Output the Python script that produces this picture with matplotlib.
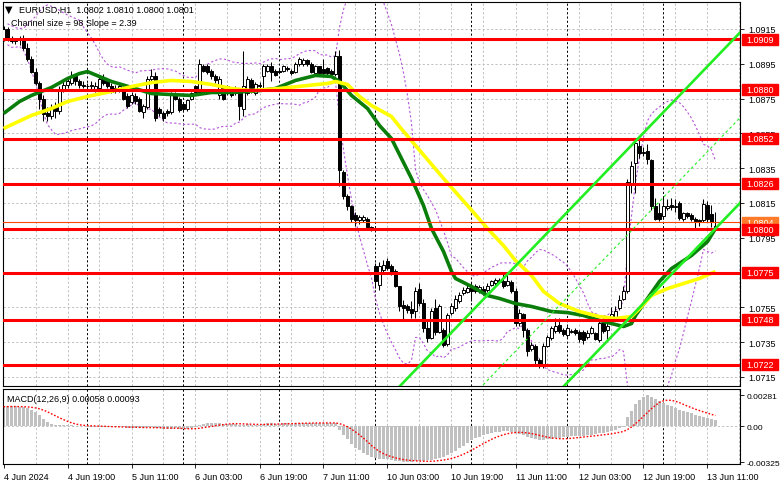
import numpy as np
import pandas as pd
import matplotlib
matplotlib.use("Agg")
import matplotlib.pyplot as plt
from matplotlib.patches import Rectangle
from matplotlib.transforms import blended_transform_factory

plt.rcParams["font.family"] = ["Liberation Sans", "DejaVu Sans"]

W, H = 781, 489

# EURUSD H1 candles, 4 Jun 03:00 .. 13 Jun 13:00
opens = [
    1.09095, 1.09150, 1.09090, 1.09080, 1.09085, 1.09100, 1.09040, 1.08980, 1.08905, 1.08840,
    1.08750, 1.08665, 1.08650, 1.08700, 1.08680, 1.08805, 1.08830, 1.08840, 1.08880, 1.08850,
    1.08830, 1.08825, 1.08820, 1.08800, 1.08810, 1.08865, 1.08850, 1.08825, 1.08810, 1.08800,
    1.08810, 1.08765, 1.08730, 1.08765, 1.08750, 1.08670, 1.08700, 1.08860, 1.08880, 1.08690,
    1.08665, 1.08680, 1.08670, 1.08770, 1.08750, 1.08720, 1.08690, 1.08750, 1.08820, 1.08790,
    1.08940, 1.08935, 1.08910, 1.08880, 1.08770, 1.08820, 1.08780, 1.08800, 1.08810, 1.08790,
    1.08690, 1.08780, 1.08855, 1.08780, 1.08830, 1.08880, 1.08910, 1.08940, 1.08910, 1.08910,
    1.08910, 1.08925, 1.08910, 1.08905, 1.08950, 1.08950, 1.08970, 1.08950, 1.08895, 1.08935,
    1.08920, 1.08925, 1.08910, 1.08890, 1.08995, 1.08330, 1.08190, 1.08130, 1.08080, 1.08050,
    1.08050, 1.08060, 1.08010, 1.07790, 1.07680, 1.07765, 1.07815, 1.07790, 1.07760, 1.07670,
    1.07565, 1.07555, 1.07540, 1.07530, 1.07655, 1.07575, 1.07430, 1.07375, 1.07545, 1.07410,
    1.07420, 1.07340, 1.07515, 1.07545, 1.07585, 1.07630, 1.07640, 1.07670, 1.07670, 1.07645,
    1.07655, 1.07650, 1.07680, 1.07690, 1.07695, 1.07700, 1.07680, 1.07695, 1.07645, 1.07460,
    1.07510, 1.07420, 1.07310, 1.07330, 1.07245, 1.07225, 1.07330, 1.07375, 1.07415, 1.07450,
    1.07420, 1.07390, 1.07410, 1.07420, 1.07410, 1.07410, 1.07380, 1.07405, 1.07400, 1.07360,
    1.07470, 1.07420, 1.07475, 1.07475, 1.07545, 1.07600, 1.07645, 1.08260, 1.08380, 1.08480,
    1.08440, 1.08450, 1.08395, 1.08130, 1.08090, 1.08075, 1.08120, 1.08140, 1.08125, 1.08150,
    1.08055, 1.08090, 1.08080, 1.08060, 1.08050, 1.08050, 1.08140, 1.08085, 1.08020,
]
highs = [
    1.09165, 1.09160, 1.09110, 1.09100, 1.09110, 1.09115, 1.09070, 1.08995, 1.08925, 1.08850,
    1.08770, 1.08700, 1.08720, 1.08730, 1.08820, 1.08850, 1.08870, 1.08910, 1.08890, 1.08860,
    1.08850, 1.08840, 1.08850, 1.08845, 1.08880, 1.08890, 1.08870, 1.08840, 1.08830, 1.08835,
    1.08825, 1.08780, 1.08785, 1.08780, 1.08760, 1.08720, 1.08880, 1.08920, 1.08900, 1.08700,
    1.08680, 1.08690, 1.08790, 1.08790, 1.08760, 1.08730, 1.08750, 1.08790, 1.08830, 1.08975,
    1.08950, 1.08950, 1.08920, 1.08890, 1.08880, 1.08830, 1.08830, 1.08810, 1.08820, 1.08800,
    1.09025, 1.08880, 1.08870, 1.08845, 1.08845, 1.08950, 1.08950, 1.08960, 1.08920, 1.08920,
    1.08945, 1.08935, 1.08920, 1.08960, 1.08990, 1.08985, 1.08980, 1.08960, 1.08945, 1.08940,
    1.08980, 1.08930, 1.08920, 1.09025, 1.09030, 1.08340, 1.08200, 1.08140, 1.08100, 1.08080,
    1.08080, 1.08070, 1.08020, 1.07805, 1.07810, 1.07820, 1.07835, 1.07800, 1.07770, 1.07675,
    1.07590, 1.07570, 1.07585, 1.07665, 1.07690, 1.07600, 1.07480, 1.07545, 1.07600, 1.07570,
    1.07430, 1.07520, 1.07575, 1.07620, 1.07640, 1.07665, 1.07680, 1.07695, 1.07685, 1.07680,
    1.07670, 1.07690, 1.07710, 1.07720, 1.07720, 1.07750, 1.07750, 1.07710, 1.07660, 1.07540,
    1.07520, 1.07430, 1.07350, 1.07340, 1.07260, 1.07345, 1.07390, 1.07440, 1.07490, 1.07490,
    1.07430, 1.07440, 1.07425, 1.07430, 1.07420, 1.07420, 1.07420, 1.07445, 1.07410, 1.07475,
    1.07500, 1.07490, 1.07550, 1.07560, 1.07620, 1.07670, 1.08290, 1.08390, 1.08520, 1.08525,
    1.08470, 1.08490, 1.08405, 1.08180, 1.08150, 1.08190, 1.08175, 1.08180, 1.08170, 1.08160,
    1.08100, 1.08100, 1.08090, 1.08070, 1.08060, 1.08175, 1.08160, 1.08140, 1.08100,
]
lows = [
    1.09080, 1.09080, 1.09070, 1.09065, 1.09060, 1.09030, 1.08965, 1.08895, 1.08830, 1.08690,
    1.08620, 1.08620, 1.08630, 1.08640, 1.08660, 1.08790, 1.08810, 1.08830, 1.08830, 1.08810,
    1.08810, 1.08800, 1.08800, 1.08790, 1.08800, 1.08830, 1.08810, 1.08780, 1.08780, 1.08785,
    1.08740, 1.08695, 1.08720, 1.08720, 1.08670, 1.08640, 1.08690, 1.08840, 1.08620, 1.08650,
    1.08620, 1.08650, 1.08660, 1.08740, 1.08670, 1.08680, 1.08680, 1.08740, 1.08780, 1.08780,
    1.08900, 1.08890, 1.08860, 1.08840, 1.08750, 1.08740, 1.08770, 1.08760, 1.08770, 1.08625,
    1.08650, 1.08770, 1.08780, 1.08770, 1.08810, 1.08810, 1.08900, 1.08850, 1.08880, 1.08895,
    1.08900, 1.08910, 1.08885, 1.08895, 1.08940, 1.08940, 1.08940, 1.08895, 1.08885, 1.08880,
    1.08885, 1.08885, 1.08880, 1.08880, 1.08250, 1.08170, 1.08110, 1.08040, 1.08020, 1.08030,
    1.08040, 1.08000, 1.07990, 1.07660, 1.07650, 1.07755, 1.07765, 1.07735, 1.07665, 1.07530,
    1.07475, 1.07520, 1.07490, 1.07490, 1.07560, 1.07410, 1.07350, 1.07370, 1.07390, 1.07400,
    1.07320, 1.07330, 1.07505, 1.07530, 1.07575, 1.07620, 1.07630, 1.07585, 1.07630, 1.07635,
    1.07620, 1.07640, 1.07670, 1.07680, 1.07690, 1.07660, 1.07670, 1.07630, 1.07440, 1.07440,
    1.07380, 1.07270, 1.07300, 1.07220, 1.07200, 1.07200, 1.07320, 1.07365, 1.07405, 1.07405,
    1.07385, 1.07380, 1.07400, 1.07390, 1.07350, 1.07340, 1.07370, 1.07395, 1.07360, 1.07350,
    1.07405, 1.07360, 1.07460, 1.07470, 1.07535, 1.07590, 1.07630, 1.08205, 1.08205, 1.08410,
    1.08420, 1.08375, 1.08110, 1.08050, 1.08045, 1.08060, 1.08110, 1.08110, 1.08100, 1.08050,
    1.08045, 1.08065, 1.08045, 1.08000, 1.08020, 1.08040, 1.08040, 1.08010, 1.08000,
]
closes = [
    1.09150, 1.09090, 1.09080, 1.09085, 1.09100, 1.09040, 1.08980, 1.08905, 1.08840, 1.08750,
    1.08660, 1.08650, 1.08700, 1.08680, 1.08805, 1.08830, 1.08850, 1.08880, 1.08850, 1.08830,
    1.08825, 1.08820, 1.08830, 1.08825, 1.08865, 1.08840, 1.08825, 1.08790, 1.08795, 1.08820,
    1.08750, 1.08710, 1.08770, 1.08735, 1.08680, 1.08710, 1.08865, 1.08880, 1.08640, 1.08665,
    1.08640, 1.08665, 1.08770, 1.08750, 1.08685, 1.08690, 1.08740, 1.08780, 1.08790, 1.08950,
    1.08910, 1.08905, 1.08880, 1.08855, 1.08865, 1.08750, 1.08820, 1.08770, 1.08780, 1.08705,
    1.08820, 1.08865, 1.08790, 1.08835, 1.08825, 1.08935, 1.08940, 1.08905, 1.08885, 1.08905,
    1.08935, 1.08920, 1.08895, 1.08950, 1.08980, 1.08970, 1.08950, 1.08905, 1.08935, 1.08895,
    1.08895, 1.08895, 1.08890, 1.08995, 1.08340, 1.08190, 1.08130, 1.08060, 1.08050, 1.08070,
    1.08070, 1.08010, 1.08000, 1.07700, 1.07790, 1.07795, 1.07775, 1.07745, 1.07675, 1.07560,
    1.07545, 1.07535, 1.07515, 1.07645, 1.07575, 1.07430, 1.07375, 1.07530, 1.07410, 1.07555,
    1.07335, 1.07505, 1.07555, 1.07600, 1.07620, 1.07648, 1.07660, 1.07645, 1.07645, 1.07665,
    1.07635, 1.07675, 1.07700, 1.07705, 1.07705, 1.07670, 1.07700, 1.07645, 1.07460, 1.07520,
    1.07420, 1.07300, 1.07335, 1.07250, 1.07225, 1.07330, 1.07380, 1.07430, 1.07445, 1.07415,
    1.07395, 1.07430, 1.07415, 1.07400, 1.07370, 1.07360, 1.07405, 1.07430, 1.07370, 1.07460,
    1.07415, 1.07445, 1.07510, 1.07530, 1.07590, 1.07645, 1.08270, 1.08365, 1.08495, 1.08435,
    1.08445, 1.08405, 1.08130, 1.08060, 1.08060, 1.08130, 1.08135, 1.08125, 1.08130, 1.08065,
    1.08090, 1.08075, 1.08055, 1.08045, 1.08040, 1.08145, 1.08060, 1.08040, 1.08010,
]

# MACD(12,26,9) main values per bar
macd_main = [
    0.00178, 0.00180, 0.00181, 0.00180, 0.00178, 0.00172, 0.00162, 0.00148, 0.00128, 0.00100,
    0.00070, 0.00042, 0.00022, 0.00012, 0.00010, 0.00012, 0.00010, 0.00008, 0.00004, 0.00002,
    -0.00001, -0.00003, -0.00004, -0.00005, -0.00004, -0.00003, -0.00004, -0.00006, -0.00008, -0.00008,
    -0.00010, -0.00013, -0.00012, -0.00013, -0.00016, -0.00017, -0.00008, -0.00004, -0.00015, -0.00020,
    -0.00025, -0.00028, -0.00022, -0.00020, -0.00024, -0.00026, -0.00022, -0.00016, -0.00010, 0.00008,
    0.00020, 0.00028, 0.00030, 0.00030, 0.00028, 0.00022, 0.00022, 0.00020, 0.00018, 0.00010,
    0.00014, 0.00018, 0.00016, 0.00016, 0.00015, 0.00022, 0.00026, 0.00026, 0.00025, 0.00025,
    0.00026, 0.00026, 0.00025, 0.00028, 0.00032, 0.00034, 0.00034, 0.00032, 0.00032, 0.00030,
    0.00029, 0.00028, 0.00026, 0.00032, -0.00030, -0.00075, -0.00115, -0.00160, -0.00195, -0.00220,
    -0.00240, -0.00260, -0.00280, -0.00292, -0.00296, -0.00298, -0.00300, -0.00305, -0.00312, -0.00320,
    -0.00325, -0.00325, -0.00322, -0.00320, -0.00318, -0.00314, -0.00310, -0.00306, -0.00300, -0.00290,
    -0.00282, -0.00265, -0.00245, -0.00225, -0.00200, -0.00175, -0.00150, -0.00128, -0.00110, -0.00095,
    -0.00082, -0.00070, -0.00060, -0.00052, -0.00048, -0.00046, -0.00045, -0.00048, -0.00060, -0.00070,
    -0.00080, -0.00095, -0.00105, -0.00115, -0.00125, -0.00125, -0.00120, -0.00115, -0.00110, -0.00105,
    -0.00100, -0.00095, -0.00090, -0.00088, -0.00088, -0.00085, -0.00080, -0.00075, -0.00072, -0.00065,
    -0.00058, -0.00050, -0.00042, -0.00032, -0.00020, -0.00010, 0.00080, 0.00140, 0.00200, 0.00240,
    0.00265, 0.00281, 0.00270, 0.00250, 0.00228, 0.00210, 0.00195, 0.00180, 0.00168, 0.00150,
    0.00140, 0.00130, 0.00118, 0.00105, 0.00095, 0.00088, 0.00078, 0.00068, 0.00058,
]

# moving averages (bar index -> price)
ma_green_bars = [0, 4, 7, 12, 16, 19, 21, 27, 32, 37, 42, 47, 52, 57, 64, 68, 73, 78, 82, 84,
                 87, 91, 94, 97, 102, 105, 107, 110, 112, 113, 117, 121, 124, 128, 132, 137,
                 141, 145, 149, 152, 155, 157, 158, 161, 164, 167, 172, 176, 178]
ma_green_vals = [1.08664, 1.08733, 1.08768, 1.08814, 1.08865, 1.08894, 1.08905, 1.08848, 1.08814,
                 1.08779, 1.08773, 1.08768, 1.08785, 1.08785, 1.08796, 1.08808, 1.08854, 1.08883,
                 1.08877, 1.08848, 1.08768, 1.08693, 1.08595, 1.08520, 1.08291, 1.08135, 1.08003,
                 1.07871, 1.07756, 1.07716, 1.07670, 1.07618, 1.07601, 1.07572, 1.07555, 1.07526,
                 1.07520, 1.07503, 1.07475, 1.07457, 1.07440, 1.07457, 1.07503, 1.07601, 1.07699,
                 1.07773, 1.07848, 1.07928, 1.08003]
ma_yellow_bars = [0, 7, 12, 16, 21, 27, 32, 37, 42, 47, 52, 57, 62, 69, 76, 81, 83, 86, 89, 92,
                  97, 99, 110, 116, 121, 125, 128, 132, 135, 139, 144, 149, 153, 157, 159, 162,
                  166, 170, 174, 178]
ma_yellow_vals = [1.08578, 1.08653, 1.08693, 1.08733, 1.08762, 1.08791, 1.08819, 1.08842, 1.08854,
                  1.08848, 1.08831, 1.08808, 1.08796, 1.08808, 1.08825, 1.08837, 1.08848, 1.08831,
                  1.08762, 1.08710, 1.08647, 1.08589, 1.08291, 1.08135, 1.08003, 1.07905, 1.07819,
                  1.07733, 1.07641, 1.07572, 1.07526, 1.07497, 1.07486, 1.07497, 1.07543, 1.07618,
                  1.07658, 1.07687, 1.07716, 1.07756]

levels = [1.0909, 1.0880, 1.0852, 1.0826, 1.0800, 1.0775, 1.0748, 1.0722]
extra_level = 1.0804

# linear regression channel: 98 pips wide, 2.39 pips per bar
chan_anchor_bar = 149
chan_anchor_mid = 1.0780
chan_slope = 0.000239
chan_size = 0.0098

day_starts = [21, 45, 69, 93, 117, 141, 165]
time_ticks = [0, 16, 32, 48, 64, 80, 96, 112, 128, 144, 160, 176]
time_labels = ["4 Jun 2024", "4 Jun 19:00", "5 Jun 11:00", "6 Jun 03:00", "6 Jun 19:00",
               "7 Jun 11:00", "10 Jun 03:00", "10 Jun 19:00", "11 Jun 11:00",
               "12 Jun 03:00", "12 Jun 19:00", "13 Jun 11:00"]
price_ticks = [1.0915, 1.0895, 1.0875, 1.0855, 1.0835, 1.0815, 1.0795, 1.0755, 1.0735, 1.0715]
grid_prices = [1.0915, 1.0895, 1.0875, 1.0855, 1.0835, 1.0815, 1.0795, 1.0775, 1.0755, 1.0735, 1.0715]

FS = 6.5
GRID = "#c0c0c0"
DASH = (0, (2.2, 2.2))

x = np.arange(len(closes))
o = np.array(opens)
h = np.array(highs)
l = np.array(lows)
c = np.array(closes)

fig = plt.figure(figsize=(W / 100, H / 100), dpi=100)
ax = fig.add_axes([3 / W, 1 - 387 / H, 737 / W, 384 / H])
ax2 = fig.add_axes([3 / W, 1 - 465 / H, 737 / W, 75 / H], sharex=ax)

ax.set_xlim(-0.125, 184.125)
ax.set_ylim(1.07098, 1.09305)
ax2.set_ylim(-0.00343, 0.00339)

for a in (ax, ax2):
    for b in range(8, 185, 8):
        a.axvline(b, color=GRID, lw=0.7, ls=DASH, zorder=0.5)
    for d in day_starts:
        a.axvline(d, color="black", lw=0.7, ls=DASH, zorder=0.6)
    for s in a.spines.values():
        s.set_linewidth(0.8)
for p in grid_prices:
    ax.axhline(p, color=GRID, lw=0.7, ls=DASH, zorder=0.5)
ax2.axhline(0, color=GRID, lw=0.7, ls=DASH, zorder=0.5)

# Bollinger bands (20, 2)
cs = pd.Series(closes)
bb_mid = cs.rolling(20, min_periods=2).mean()
bb_sd = cs.rolling(20, min_periods=2).std(ddof=0)
ax.plot(x, bb_mid + 2 * bb_sd, color="#b455d8", lw=0.8, ls=(0, (2, 2)), zorder=2)
ax.plot(x, bb_mid - 2 * bb_sd, color="#b455d8", lw=0.8, ls=(0, (2, 2)), zorder=2)

# candles
ax.vlines(x, l, h, color="black", lw=0.75, zorder=3)
body_lo = np.minimum(o, c)
body_h = np.maximum(np.abs(c - o), 0.00003)
up = c >= o
ax.bar(x[up], body_h[up], bottom=body_lo[up], width=0.72, color="white",
       edgecolor="black", linewidth=0.7, zorder=3.1)
ax.bar(x[~up], body_h[~up], bottom=body_lo[~up], width=0.72, color="black",
       edgecolor="black", linewidth=0.7, zorder=3.1)

# moving averages
ax.plot(ma_green_bars, ma_green_vals, color="#0a7d0a", lw=2.6, zorder=4, solid_capstyle="butt")
ax.plot(ma_yellow_bars, ma_yellow_vals, color="#ffff00", lw=2.6, zorder=4.1, solid_capstyle="butt")

# horizontal levels
ax.axhline(extra_level, color="#ff4500", lw=0.8, zorder=4.9)
for lv in levels:
    ax.axhline(lv, color="#ff0000", lw=2.2, zorder=5)

# channel
cb = np.array([90, 186])
mid = chan_anchor_mid + chan_slope * (cb - chan_anchor_bar)
ax.plot(cb, mid + chan_size / 2, color="#22ee22", lw=1.9, zorder=6)
ax.plot(cb, mid - chan_size / 2, color="#22ee22", lw=1.9, zorder=6)
ax.plot(cb, mid, color="#22ee22", lw=0.8, ls=(0, (2.5, 2.5)), zorder=6)

# right price scale
ax.yaxis.tick_right()
ax.set_yticks(price_ticks)
ax.set_yticklabels([f"{p:.4f}" for p in price_ticks])
ax.tick_params(axis="y", length=3, width=0.6, pad=3, labelsize=FS)
ax.tick_params(axis="x", bottom=False, labelbottom=False)

blend = blended_transform_factory(fig.transFigure, ax.transData)
box_h = 11 * (1.09305 - 1.07098) / 384
ax.add_patch(Rectangle((742 / W, extra_level - box_h / 2), 36 / W, box_h, transform=blend,
                       color="#ff7a2a", clip_on=False, zorder=10))
ax.text(760 / W, extra_level, f"{extra_level:.4f}", transform=blend, color="white",
        ha="center", va="center", fontsize=FS, zorder=10.5, clip_on=False)
for lv in levels:
    ax.add_patch(Rectangle((742 / W, lv - box_h / 2), 36 / W, box_h, transform=blend,
                           color="#ff0000", clip_on=False, zorder=11))
    ax.text(760 / W, lv, f"{lv:.4f}", transform=blend, color="white",
            ha="center", va="center", fontsize=FS, zorder=11.5, clip_on=False)

# MACD panel
signal = pd.Series(macd_main).rolling(9, min_periods=1).mean()
ax2.bar(x, macd_main, width=0.62, color="#c0c0c0", zorder=2)
ax2.plot(x, signal, color="#ff0000", lw=1.0, ls=(0, (1.2, 1.3)), zorder=3)
ax2.yaxis.tick_right()
ax2.set_yticks([0.00281, 0.0, -0.00325])
ax2.set_yticklabels(["0.00281", "0.00", "-0.00325"])
ax2.tick_params(axis="y", length=3, width=0.6, pad=2, labelsize=6.1)
ax2.set_xticks(time_ticks)
ax2.set_xticklabels(time_labels)
ax2.tick_params(axis="x", length=3, width=0.6, pad=3, labelsize=FS)
for t in ax2.get_xticklabels():
    t.set_ha("left")

# header texts
fig.text(5 / W, 1 - 10 / H, "\u25bc", fontsize=7, va="center", family="DejaVu Sans")
fig.text(19 / W, 1 - 10 / H,
         f"EURUSD,H1  {opens[-1]:.4f} {highs[-1]:.4f} {lows[-1]:.4f} {closes[-1]:.4f}",
         fontsize=FS, va="center")
fig.text(11 / W, 1 - 23 / H, "Channel size = 98 Slope = 2.39", fontsize=FS, va="center")
fig.text(7 / W, 1 - 400 / H, "MACD(12,26,9) 0.00058 0.00093", fontsize=FS, va="center")

fig.savefig("out.png", dpi=100)
